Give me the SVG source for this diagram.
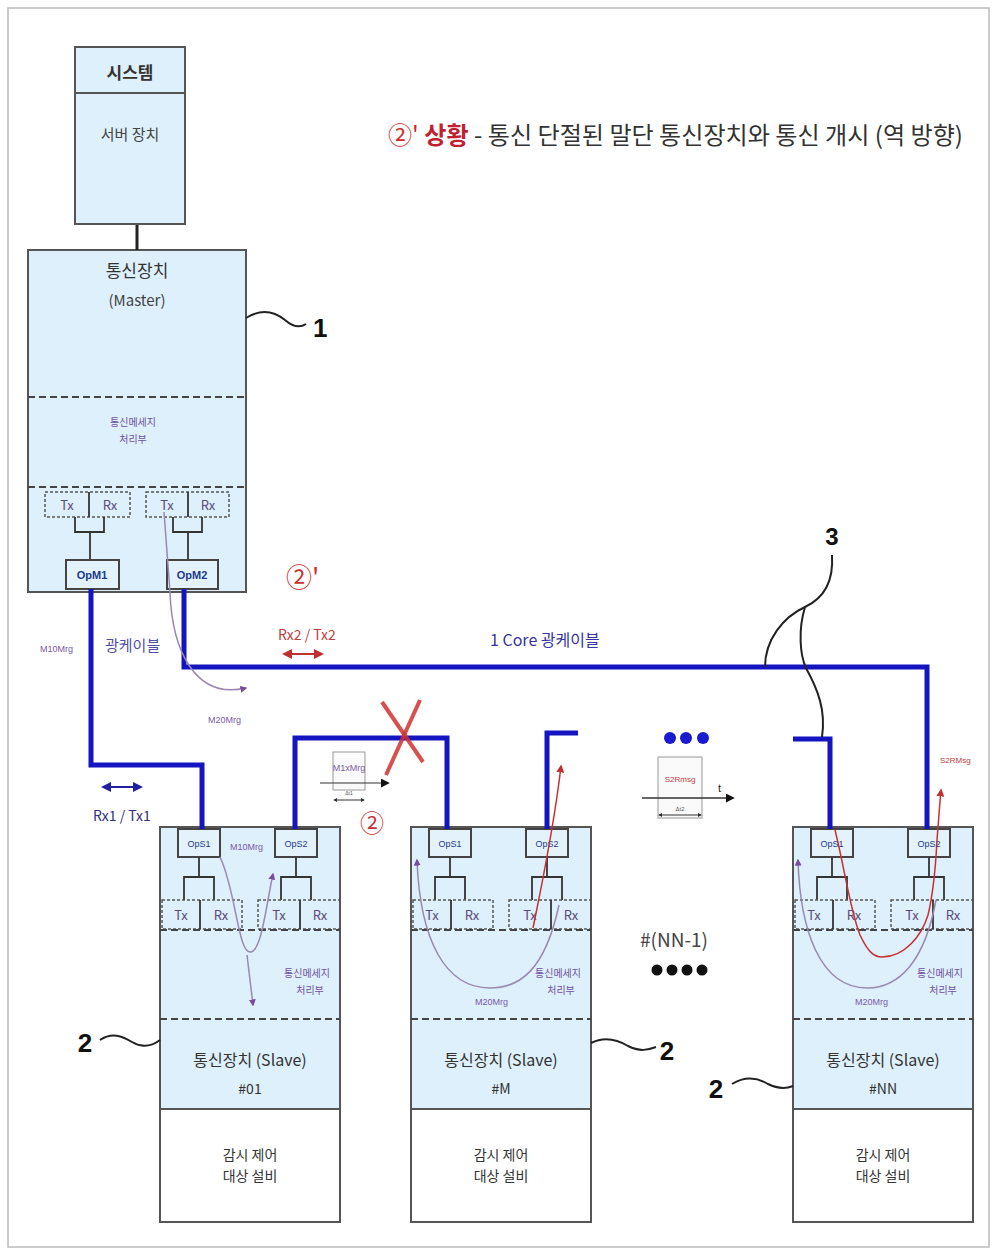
<svg xmlns="http://www.w3.org/2000/svg" width="997" height="1255" viewBox="0 0 997 1255">
<style>
.box{fill:#ddf0fb;stroke:#555;stroke-width:2}
.wbox{fill:#fff;stroke:#555;stroke-width:2}
.dash{stroke:#444;stroke-width:2;stroke-dasharray:7 4;fill:none}
.dotb{fill:none;stroke:#555;stroke-width:1.5;stroke-dasharray:3 2}
.thin{stroke:#333;stroke-width:1.8;fill:none}
.op{fill:#e4f3fb;stroke:#444;stroke-width:2}
.cable{stroke:#1414c0;stroke-width:5;fill:none}
.lead{stroke:#222;stroke-width:2;fill:none}
.ko{font-family:"Noto Sans CJK KR","Noto Sans",sans-serif}
.num{font-family:"Liberation Sans","DejaVu Sans",sans-serif;font-weight:bold;fill:#111}
.purp{stroke:#9a88b0;stroke-width:1.5;fill:none}
.redl{stroke:#c83030;stroke-width:1.5;fill:none}
.txrx{font-size:13px;fill:#5a4a7a;text-anchor:middle}
.opt{font-size:9px;fill:#1a3a8a;text-anchor:middle;font-family:"Liberation Sans",sans-serif}
.proc{font-size:10px;fill:#7050a0;text-anchor:middle}
.msg{font-size:9px;fill:#7a5aa8;font-family:"Liberation Sans",sans-serif}
.mid{text-anchor:middle}
.circ{fill:#c83030}
</style>
<defs>
<marker id="ap" viewBox="0 0 10 10" refX="8" refY="5" markerWidth="7" markerHeight="7" orient="auto" markerUnits="userSpaceOnUse"><path d="M0,0 L10,5 L0,10 z" fill="#7a4aa0"/></marker>
<marker id="ar" viewBox="0 0 10 10" refX="8" refY="5" markerWidth="8" markerHeight="8" orient="auto" markerUnits="userSpaceOnUse"><path d="M0,0 L10,5 L0,10 z" fill="#c03030"/></marker>
<marker id="ak" viewBox="0 0 10 10" refX="8" refY="5" markerWidth="9" markerHeight="9" orient="auto" markerUnits="userSpaceOnUse"><path d="M0,0 L10,5 L0,10 z" fill="#111"/></marker>
<marker id="as" viewBox="0 0 10 10" refX="8" refY="5" markerWidth="4" markerHeight="4" orient="auto-start-reverse" markerUnits="userSpaceOnUse"><path d="M0,0 L10,5 L0,10 z" fill="#333"/></marker>
<marker id="ab" viewBox="0 0 10 10" refX="8" refY="5" markerWidth="10" markerHeight="10" orient="auto-start-reverse" markerUnits="userSpaceOnUse"><path d="M0,0 L10,5 L0,10 z" fill="#2020a0"/></marker>
<marker id="arr" viewBox="0 0 10 10" refX="8" refY="5" markerWidth="10" markerHeight="10" orient="auto-start-reverse" markerUnits="userSpaceOnUse"><path d="M0,0 L10,5 L0,10 z" fill="#c03030"/></marker>
</defs>
<rect x="0" y="0" width="997" height="1255" fill="#fff"/>
<rect x="8" y="8" width="981" height="1239" fill="none" stroke="#bbb" stroke-width="1.5"/>

<text class="ko" x="388" y="144" font-size="24" textLength="575" lengthAdjust="spacingAndGlyphs"><tspan fill="#d02828">②'</tspan><tspan fill="#c02030" font-weight="bold"> 상황</tspan><tspan fill="#333"> - 통신 단절된 말단 통신장치와 통신 개시 (역 방향)</tspan></text>

<g id="system">
<rect class="box" x="75" y="47" width="110" height="177"/>
<line x1="75" y1="93" x2="185" y2="93" stroke="#555" stroke-width="2"/>
<text class="ko mid" x="130" y="79" font-size="17" font-weight="bold" fill="#333">시스템</text>
<text class="ko mid" x="130" y="140" font-size="15" fill="#444">서버 장치</text>
</g>

<g id="master">
<rect class="box" x="28" y="250" width="218" height="342"/>
<text class="ko mid" x="137" y="277" font-size="17" fill="#333">통신장치</text>
<text class="ko mid" x="137" y="306" font-size="15" fill="#444">(Master)</text>
<line class="dash" x1="28" y1="397" x2="246" y2="397"/>
<text class="ko proc" x="133" y="426">통신메세지</text>
<text class="ko proc" x="133" y="443">처리부</text>
<line class="dash" x1="28" y1="487" x2="246" y2="487"/>
<rect class="dotb" x="45" y="492" width="85" height="25"/>
<rect class="dotb" x="146" y="492" width="83" height="25"/>
<line class="thin" x1="89" y1="492" x2="89" y2="517"/>
<line class="thin" x1="188" y1="492" x2="188" y2="517"/>
<text class="ko txrx" x="67" y="510">Tx</text>
<text class="ko txrx" x="110" y="510">Rx</text>
<text class="ko txrx" x="167" y="510">Tx</text>
<text class="ko txrx" x="208" y="510">Rx</text>
<path class="thin" d="M75,517 V532 H104 V517 M90,532 V560"/>
<path class="thin" d="M173,517 V532 H202 V517 M188,532 V560"/>
<rect class="op" x="66" y="560" width="53" height="29"/>
<rect class="op" x="167" y="560" width="51" height="29"/>
<text x="92" y="579" font-size="11" font-weight="bold" fill="#1a3a8a" text-anchor="middle" font-family="Liberation Sans,sans-serif">OpM1</text>
<text x="192" y="579" font-size="11" font-weight="bold" fill="#1a3a8a" text-anchor="middle" font-family="Liberation Sans,sans-serif">OpM2</text>
</g>

<g id="slave01" transform="translate(160,0)">
<rect class="box" x="0" y="827" width="180" height="282"/>
<rect class="wbox" x="0" y="1109" width="180" height="113"/>
<rect class="op" x="18" y="829" width="42" height="28"/>
<rect class="op" x="115" y="829" width="42" height="28"/>
<text class="opt" x="39" y="847">OpS1</text>
<text class="opt" x="136" y="847">OpS2</text>
<path class="thin" d="M39,857 V877 M24,900 V877 H54 V900 M136,857 V877 M121,900 V877 H151 V900"/>
<rect class="dotb" x="2" y="900" width="80" height="29"/>
<rect class="dotb" x="98" y="900" width="82" height="29"/>
<line class="thin" x1="40" y1="900" x2="40" y2="929"/>
<line class="thin" x1="140" y1="900" x2="140" y2="929"/>
<text class="ko txrx" x="21" y="920">Tx</text>
<text class="ko txrx" x="61" y="920">Rx</text>
<text class="ko txrx" x="119" y="920">Tx</text>
<text class="ko txrx" x="160" y="920">Rx</text>
<line class="dash" x1="0" y1="930" x2="180" y2="930"/>
<line class="dash" x1="0" y1="1019" x2="180" y2="1019"/>
<text class="ko proc" x="147" y="977">통신메세지</text>
<text class="ko proc" x="150" y="994">처리부</text>
<text class="ko mid" x="90" y="1066" font-size="16" fill="#333">통신장치 (Slave)</text>
<text class="ko mid" x="90" y="1094" font-size="14" fill="#333">#01</text>
<text class="ko mid" x="90" y="1160" font-size="14" fill="#333">감시 제어</text>
<text class="ko mid" x="90" y="1181" font-size="14" fill="#333">대상 설비</text>
</g>

<g id="slaveM" transform="translate(411,0)">
<rect class="box" x="0" y="827" width="180" height="282"/>
<rect class="wbox" x="0" y="1109" width="180" height="113"/>
<rect class="op" x="18" y="829" width="42" height="28"/>
<rect class="op" x="115" y="829" width="42" height="28"/>
<text class="opt" x="39" y="847">OpS1</text>
<text class="opt" x="136" y="847">OpS2</text>
<path class="thin" d="M39,857 V877 M24,900 V877 H54 V900 M136,857 V877 M121,900 V877 H151 V900"/>
<rect class="dotb" x="2" y="900" width="80" height="29"/>
<rect class="dotb" x="98" y="900" width="82" height="29"/>
<line class="thin" x1="40" y1="900" x2="40" y2="929"/>
<line class="thin" x1="140" y1="900" x2="140" y2="929"/>
<text class="ko txrx" x="21" y="920">Tx</text>
<text class="ko txrx" x="61" y="920">Rx</text>
<text class="ko txrx" x="119" y="920">Tx</text>
<text class="ko txrx" x="160" y="920">Rx</text>
<line class="dash" x1="0" y1="930" x2="180" y2="930"/>
<line class="dash" x1="0" y1="1019" x2="180" y2="1019"/>
<text class="ko proc" x="147" y="977">통신메세지</text>
<text class="ko proc" x="150" y="994">처리부</text>
<text class="ko mid" x="90" y="1066" font-size="16" fill="#333">통신장치 (Slave)</text>
<text class="ko mid" x="90" y="1094" font-size="14" fill="#333">#M</text>
<text class="ko mid" x="90" y="1160" font-size="14" fill="#333">감시 제어</text>
<text class="ko mid" x="90" y="1181" font-size="14" fill="#333">대상 설비</text>
</g>

<g id="slaveNN" transform="translate(793,0)">
<rect class="box" x="0" y="827" width="180" height="282"/>
<rect class="wbox" x="0" y="1109" width="180" height="113"/>
<rect class="op" x="18" y="829" width="42" height="28"/>
<rect class="op" x="115" y="829" width="42" height="28"/>
<text class="opt" x="39" y="847">OpS1</text>
<text class="opt" x="136" y="847">OpS2</text>
<path class="thin" d="M39,857 V877 M24,900 V877 H54 V900 M136,857 V877 M121,900 V877 H151 V900"/>
<rect class="dotb" x="2" y="900" width="80" height="29"/>
<rect class="dotb" x="98" y="900" width="82" height="29"/>
<line class="thin" x1="40" y1="900" x2="40" y2="929"/>
<line class="thin" x1="140" y1="900" x2="140" y2="929"/>
<text class="ko txrx" x="21" y="920">Tx</text>
<text class="ko txrx" x="61" y="920">Rx</text>
<text class="ko txrx" x="119" y="920">Tx</text>
<text class="ko txrx" x="160" y="920">Rx</text>
<line class="dash" x1="0" y1="930" x2="180" y2="930"/>
<line class="dash" x1="0" y1="1019" x2="180" y2="1019"/>
<text class="ko proc" x="147" y="977">통신메세지</text>
<text class="ko proc" x="150" y="994">처리부</text>
<text class="ko mid" x="90" y="1066" font-size="16" fill="#333">통신장치 (Slave)</text>
<text class="ko mid" x="90" y="1094" font-size="14" fill="#333">#NN</text>
<text class="ko mid" x="90" y="1160" font-size="14" fill="#333">감시 제어</text>
<text class="ko mid" x="90" y="1181" font-size="14" fill="#333">대상 설비</text>
</g>

<g id="connectors">
<line x1="137" y1="225" x2="137" y2="250" stroke="#222" stroke-width="3"/>
<path class="cable" d="M91,589 V765 H202 V829"/>
<path class="cable" d="M184,589 V667 H927 V829"/>
<path class="cable" d="M295,829 V738 H447 V829"/>
<path class="cable" d="M547,829 V733 H578"/>
<path class="cable" d="M793,739 H830 V829"/>
<path class="purp" d="M164,512 L170,592 C172,650 195,700 246,688" stroke="#a0a0a8" marker-end="url(#ap)"/>
<path class="purp" d="M220,857 C236,890 238,955 251,952 C262,950 267,900 273,874" marker-end="url(#ap)"/>
<path class="purp" d="M247,955 L253,1005" marker-end="url(#ap)"/>
<path class="purp" d="M559,905 C545,970 520,988 490,988 C445,988 420,940 417,860" marker-end="url(#ap)"/>
<path class="redl" d="M533,928 C545,870 556,810 561,766" marker-end="url(#ar)"/>
<path class="purp" d="M936,900 C925,960 900,988 867,988 C820,988 800,930 798,860" marker-end="url(#ap)"/>
<path class="redl" d="M835,830 C845,870 850,910 860,935 C868,952 874,957 882,957 C905,957 922,935 928,915 C934,890 936,860 937,840 C939,815 940,800 941,790" marker-end="url(#ar)"/>
<line x1="382" y1="702" x2="423" y2="762" stroke="#d03030" stroke-width="4" stroke-opacity="0.85"/>
<line x1="420" y1="700" x2="386" y2="775" stroke="#d03030" stroke-width="4" stroke-opacity="0.85"/>
<path class="lead" d="M246,318 C262,308 275,312 285,320 C293,327 300,328 306,324"/>
<path class="lead" d="M832,555 C834,585 820,600 805,607 C783,617 765,640 765,667"/>
<path class="lead" d="M805,607 C798,630 800,655 806,668 C818,690 826,710 822,737"/>
<path class="lead" d="M100,1040 C112,1032 122,1036 132,1042 C142,1048 152,1046 160,1040"/>
<path class="lead" d="M591,1043 C605,1036 618,1040 628,1046 C640,1052 648,1050 656,1047"/>
<path class="lead" d="M732,1084 C745,1076 758,1078 768,1084 C780,1090 788,1088 793,1086"/>
<line x1="284" y1="654" x2="322" y2="654" stroke="#c03030" stroke-width="2" marker-start="url(#arr)" marker-end="url(#arr)"/>
<line x1="103" y1="787" x2="141" y2="787" stroke="#2020a0" stroke-width="2" marker-start="url(#ab)" marker-end="url(#ab)"/>
</g>

<g id="msg1">
<rect x="333" y="752" width="32" height="38" fill="#fafafa" stroke="#999" stroke-width="1"/>
<text class="msg" x="349" y="771" text-anchor="middle" font-size="6">M1xMrg</text>
<line x1="320" y1="783" x2="388" y2="783" stroke="#333" stroke-width="1.2" marker-end="url(#ak)"/>
<line x1="334" y1="800" x2="364" y2="800" stroke="#333" stroke-width="1" marker-start="url(#as)" marker-end="url(#as)"/>
<text x="349" y="795" font-size="5" fill="#555" text-anchor="middle" font-family="Liberation Sans,sans-serif">Δt1</text>
</g>

<g id="msg2">
<rect x="658" y="757" width="44" height="61" fill="#fafafa" stroke="#999" stroke-width="1"/>
<text x="680" y="782" font-size="8" fill="#c04040" text-anchor="middle" font-family="Liberation Sans,sans-serif">S2Rmsg</text>
<line x1="642" y1="798" x2="733" y2="798" stroke="#333" stroke-width="1.5" marker-end="url(#ak)"/>
<text x="718" y="792" font-size="11" fill="#222" font-family="Liberation Sans,sans-serif">t</text>
<line x1="659" y1="815" x2="701" y2="815" stroke="#333" stroke-width="1" marker-start="url(#as)" marker-end="url(#as)"/>
<text x="680" y="811" font-size="6" fill="#555" text-anchor="middle" font-family="Liberation Sans,sans-serif">Δt2</text>
</g>

<g id="labels">
<text class="num" x="313" y="337" font-size="26">1</text>
<text class="num mid" x="832" y="545" font-size="24">3</text>
<text class="num mid" x="85" y="1052" font-size="26">2</text>
<text class="num mid" x="667" y="1060" font-size="26">2</text>
<text class="num mid" x="716" y="1098" font-size="26">2</text>
<text class="ko circ" x="286" y="587" font-size="26">②'</text>
<text class="ko mid circ" x="372" y="832" font-size="24">②</text>
<text class="msg" x="40" y="652" font-size="9">M10Mrg</text>
<text class="ko" x="105" y="651" font-size="15" fill="#5050a0">광케이블</text>
<text class="msg" x="208" y="723" font-size="9">M20Mrg</text>
<text class="ko" x="278" y="640" font-size="14" fill="#c04040">Rx2 / Tx2</text>
<text class="ko" x="490" y="646" font-size="16" fill="#3535a0">1 Core 광케이블</text>
<text class="ko" x="93" y="821" font-size="14" fill="#303080">Rx1 / Tx1</text>
<text x="940" y="763" font-size="8" fill="#c04040" font-family="Liberation Sans,sans-serif">S2RMsg</text>
<text class="msg" x="230" y="850" font-size="8">M10Mrg</text>
<text class="msg" x="475" y="1005" font-size="9">M20Mrg</text>
<text class="msg" x="855" y="1005" font-size="9">M20Mrg</text>
<text class="ko mid" x="674" y="947" font-size="19" fill="#444">#(NN-1)</text>
<circle cx="670" cy="738" r="6" fill="#1a1ad0"/>
<circle cx="686" cy="738" r="6" fill="#1a1ad0"/>
<circle cx="703" cy="738" r="6" fill="#1a1ad0"/>
<circle cx="657" cy="970" r="5.5" fill="#111"/>
<circle cx="672" cy="970" r="5.5" fill="#111"/>
<circle cx="687" cy="970" r="5.5" fill="#111"/>
<circle cx="702" cy="970" r="5.5" fill="#111"/>
</g>
</svg>
